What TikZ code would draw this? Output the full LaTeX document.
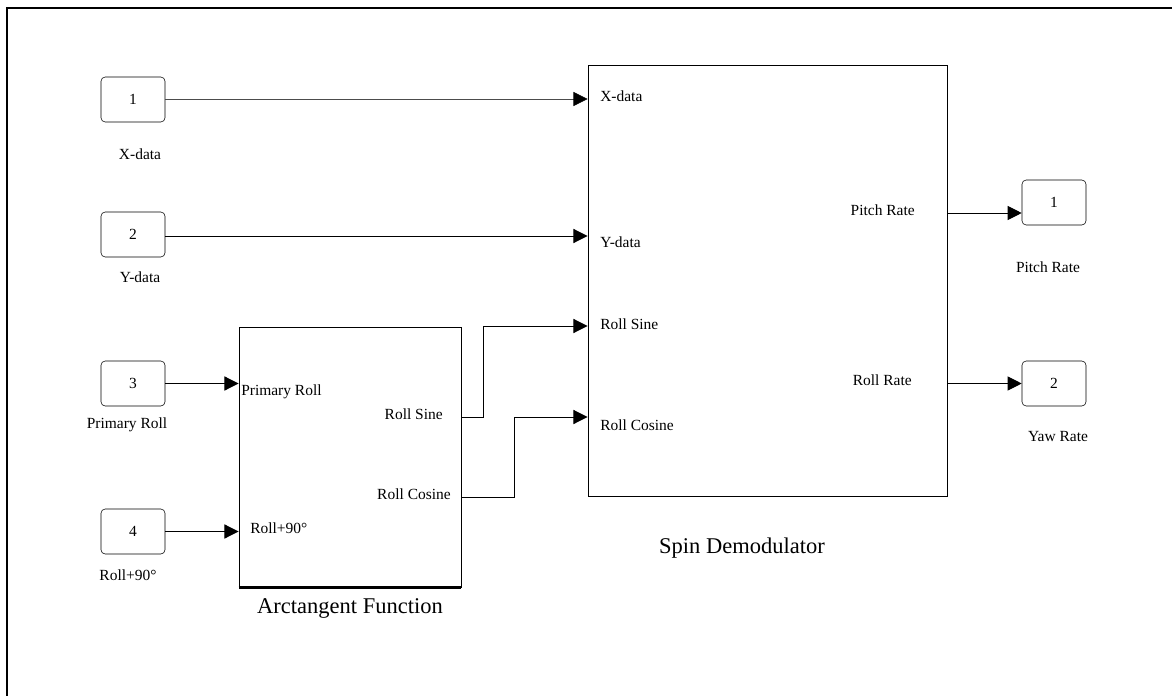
\documentclass[tikz,border=0pt]{standalone}
\usepackage{fontspec}
\setmainfont{Liberation Serif}
\usetikzlibrary{arrows.meta}
\begin{document}
\begin{tikzpicture}[x=0.025cm,y=-0.025cm,
  port/.style={draw,rounded corners=3pt,minimum width=1.6cm,minimum height=1.125cm,font=\fontsize{11}{13}\selectfont},
  block/.style={draw,line width=0.6pt},
  txt/.style={font=\fontsize{11}{13}\selectfont,inner sep=0pt},
  blockcap/.style={font=\fontsize{16}{18}\selectfont,inner sep=0pt},
  sig/.style={line width=0.7pt,-{Triangle[length=10pt,width=10pt,color=black]}}]
\useasboundingbox (0,0) rectangle (1172,696);
\draw[line width=1.4pt] (7,696)--(7,8)--(1172,8);
% blocks
\node[block,minimum width=5.55cm,minimum height=6.5cm] (atan) at (350,457) {};
\draw[line width=1.6pt] (atan.south west)--(atan.south east);
\node[block,minimum width=8.975cm,minimum height=10.775cm] (spin) at (767.5,280.5) {};
\node[blockcap] (atancap) at (350,608) {Arctangent Function};
\node[blockcap] (spincap) at (742,548) {Spin Demodulator};
% inports
\node[port] (in1) at (133,99.5) {1};
\node[port] (in2) at (133,234.5) {2};
\node[port] (in3) at (133,383.5) {3};
\node[port] (in4) at (133,531.5) {4};
\node[txt] (in1l) at (140,154) {X-data};
\node[txt] (in2l) at (140,277) {Y-data};
\node[txt] (in3l) at (127,425) {Primary Roll};
\node[txt] (in4l) at (128,575) {Roll+90°};
% outports
\node[port] (out1) at (1054,202.5) {1};
\node[port] (out2) at (1054,383.5) {2};
\node[txt] (out1l) at (1048,267) {Pitch Rate};
\node[txt] (out2l) at (1058,437) {Yaw Rate};
% port labels
\node[txt,anchor=west] at (600,96) {X-data};
\node[txt,anchor=west] at (600,242) {Y-data};
\node[txt,anchor=west] at (600,324) {Roll Sine};
\node[txt,anchor=west] at (600,425) {Roll Cosine};
\node[txt,anchor=east] at (915,210) {Pitch Rate};
\node[txt,anchor=east] at (912,380) {Roll Rate};
\node[txt,anchor=west] at (241,392) {Primary Roll};
\node[txt,anchor=west] at (250,528) {Roll+90°};
\node[txt,anchor=east] at (443,414) {Roll Sine};
\node[txt,anchor=east] at (451,494) {Roll Cosine};
% signals
\draw[sig,line width=0.4pt,draw=black!70] (in1.east |- 0,99)--(spin.west |- 0,99);
\draw[sig] (in2.east |- 0,236)--(spin.west |- 0,236);
\draw[sig] (in3)--(in3 -| atan.west);
\draw[sig] (in4)--(in4 -| atan.west);
\draw[sig] (atan.east |- 0,417)--(483,417)--(483,326)--(spin.west |- 0,326);
\draw[sig] (atan.east |- 0,497)--(514,497)--(514,417)--(spin.west |- 0,417);
\draw[sig] (spin.east |- 0,213)--(out1.west |- 0,213);
\draw[sig] (spin.east |- out2)--(out2);
\end{tikzpicture}
\end{document}
